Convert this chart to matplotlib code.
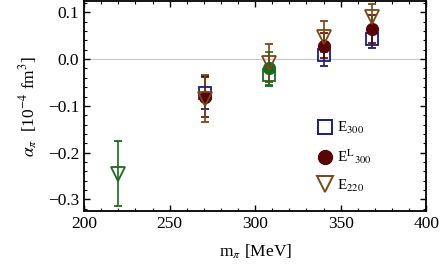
import matplotlib
matplotlib.use("Agg")
from matplotlib import pyplot as plt
from matplotlib.ticker import MultipleLocator
from matplotlib.lines import Line2D

plt.rcParams['font.family'] = ['Liberation Serif', 'DejaVu Serif']
plt.rcParams['mathtext.fontset'] = 'stix'

# E300 (blue squares)
e300_m = [270.5, 340.0, 368.5]
e300_a = [-0.072, 0.009, 0.043]
e300_err = [0.035, 0.024, 0.020]

# E^L300 (dark red circles)
el300_m = [270.5, 340.0, 368.5]
el300_a = [-0.081, 0.029, 0.064]
el300_err = [0.043, 0.027, 0.030]

# E220 (brown triangles)
e220_m = [270.5, 308.3, 340.0, 368.5]
e220_a = [-0.085, -0.008, 0.048, 0.091]
e220_err = [0.050, 0.040, 0.033, 0.026]

# green points (unlabelled)
gsq_m = [308.3]
gsq_a = [-0.034]
gsq_err = [0.024]
gci_m = [308.3]
gci_a = [-0.020]
gci_err = [0.036]
gtr_m = [219.7]
gtr_a = [-0.245]
gtr_err = [0.070]

labels = ['E$_{300}$', r'E$^{\mathrm{L}}$$_{300}$', 'E$_{220}$']

blue = '#1c1c80'
red = '#5a0505'
brown = '#7a4816'
green = '#1a6a1a'

fig = plt.figure(figsize=(4.43, 2.77), dpi=100)
ax = fig.add_axes([0.19, 0.238, 0.772, 0.758])

ax.axhline(0, color='#c8c8c8', lw=0.8, zorder=0)

eb = dict(ls='none', capsize=3, elinewidth=1.2, capthick=1.2)
ax.errorbar(gsq_m, gsq_a, yerr=gsq_err, marker='s', ms=9, mfc='none', mec=green,
            mew=1.3, color=green, **eb)
ax.errorbar(gci_m, gci_a, yerr=gci_err, marker='o', ms=8.5, color=green, **eb)
ax.errorbar(gtr_m, gtr_a, yerr=gtr_err, marker='v', ms=10, mfc='none', mec=green,
            mew=1.3, color=green, **eb)
ax.errorbar(e300_m, e300_a, yerr=e300_err, marker='s', ms=9, mfc='none', mec=blue,
            mew=1.3, color=blue, **eb)
ax.errorbar(el300_m, el300_a, yerr=el300_err, marker='o', ms=8.5, color=red, **eb)
ax.errorbar(e220_m, e220_a, yerr=e220_err, marker='v', ms=10, mfc='none', mec=brown,
            mew=1.3, color=brown, **eb)

ax.set_xlim(200, 400)
ax.set_ylim(-0.325, 0.124)
ax.xaxis.set_major_locator(MultipleLocator(50))
ax.xaxis.set_minor_locator(MultipleLocator(10))
ax.yaxis.set_major_locator(MultipleLocator(0.1))
ax.yaxis.set_minor_locator(MultipleLocator(0.02))
ax.yaxis.set_major_formatter(matplotlib.ticker.FuncFormatter(
    lambda v, p: ('%.1f' % v).replace('-', '\u2212')))
ax.tick_params(which='both', direction='in', top=True, right=True, labelsize=12.5)
ax.tick_params(which='major', length=4, width=1)
ax.tick_params(which='minor', length=2, width=0.8)
for s in ax.spines.values():
    s.set_linewidth(1.3)

ax.set_xlabel(r'm$_{\pi}$ [MeV]', fontsize=12.5, labelpad=8)
ax.set_ylabel(r'$\alpha_{\pi}$  [10$^{-4}$ fm$^{3}$]', fontsize=12.5, labelpad=6)

handles = [
    Line2D([], [], ls='none', marker='s', ms=10, mfc='none', mec=blue, mew=1.4),
    Line2D([], [], ls='none', marker='o', ms=10, color=red),
    Line2D([], [], ls='none', marker='v', ms=11, mfc='none', mec=brown, mew=1.4),
]
ax.legend(handles, labels, loc='upper left', bbox_to_anchor=(0.66, 0.47),
          frameon=False, fontsize=11, handletextpad=0.3, labelspacing=0.75,
          handlelength=1.0, borderpad=0)

fig.savefig('out.png', dpi=100)
